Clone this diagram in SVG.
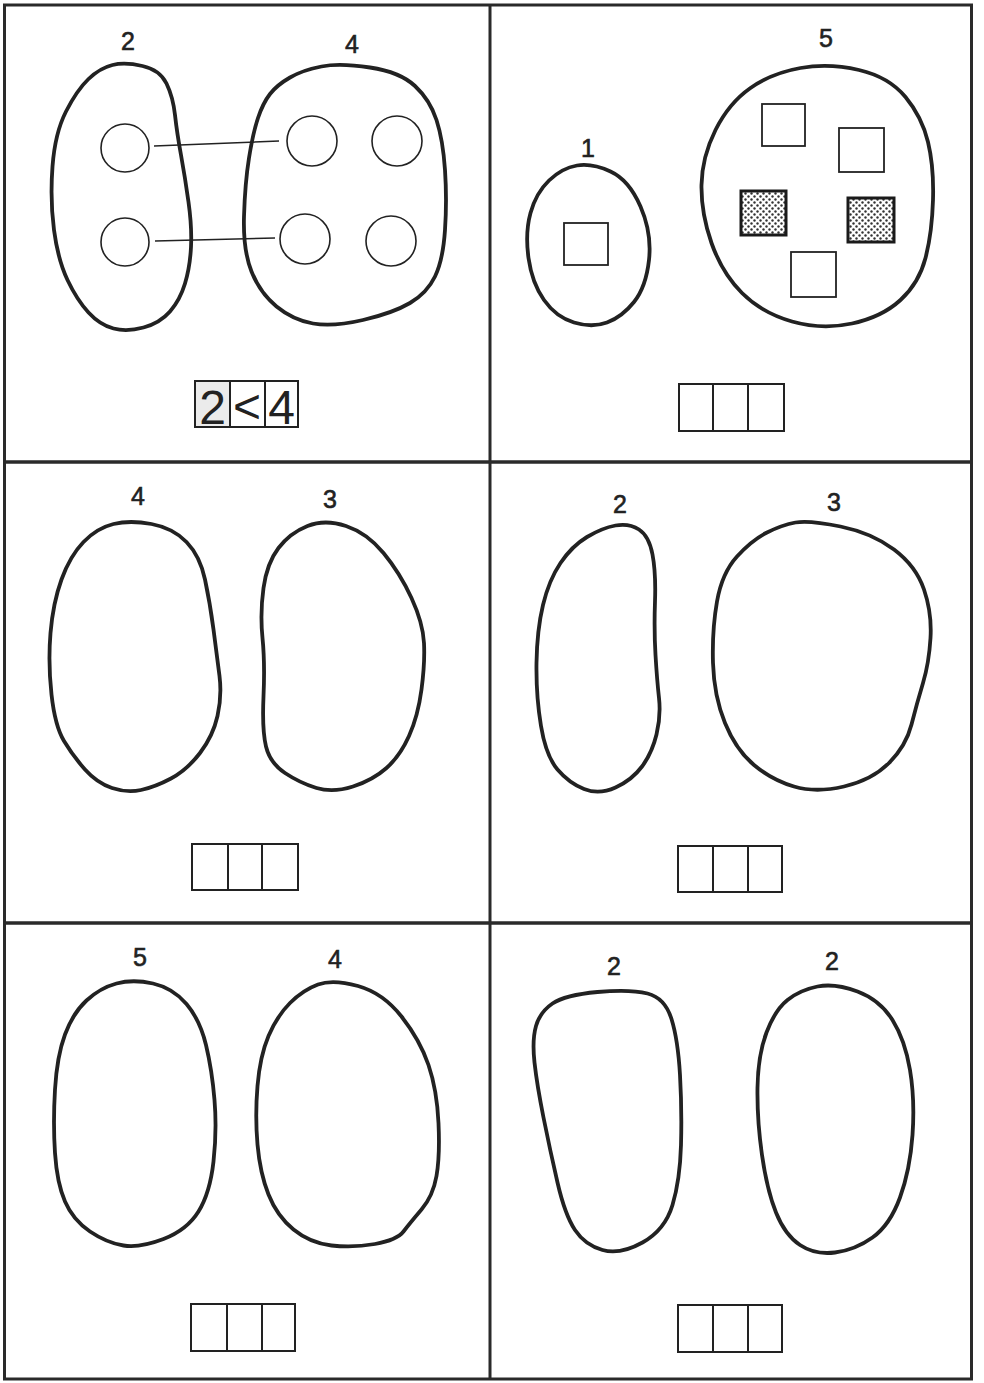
<svg xmlns="http://www.w3.org/2000/svg" width="984" height="1383" viewBox="0 0 984 1383">
<defs>
<pattern id="dots" width="6" height="6" patternUnits="userSpaceOnUse">
<rect width="6" height="6" fill="#fff"/>
<circle cx="1.5" cy="1.5" r="1.2" fill="#333"/>
<circle cx="4.5" cy="4.5" r="1.2" fill="#333"/>
</pattern>
</defs>
<style>
.frame{fill:none;stroke:#2a2a2a;stroke-width:3}
.blob{fill:none;stroke:#222;stroke-width:3.8;stroke-linejoin:round}
.circ{fill:none;stroke:#222;stroke-width:1.6}
.sq{fill:none;stroke:#222;stroke-width:1.8}
.sqd{fill:url(#dots);stroke:#1a1a1a;stroke-width:3}
.box{fill:none;stroke:#222;stroke-width:2}
.lbl{font-family:"Liberation Sans",Arial,sans-serif;font-size:25px;fill:#222;stroke:#222;stroke-width:0.6;text-anchor:middle}
.ans{font-family:"Liberation Sans",Arial,sans-serif;font-size:48px;fill:#222;text-anchor:middle}
.conn{stroke:#222;stroke-width:1.5;fill:none}
</style>
<rect width="984" height="1383" fill="#fff"/>
<g id="frame">
<rect class="frame" x="4.5" y="5" width="967" height="1374"/>
<line class="frame" x1="490" y1="5" x2="490" y2="1379"/>
<line class="frame" x1="4.5" y1="462" x2="971.5" y2="462" style="stroke-width:3.5"/>
<line class="frame" x1="4.5" y1="923" x2="971.5" y2="923" style="stroke-width:3.5"/>
</g>

<g id="cell1">
<g id="set-2a">
<text class="lbl" x="128" y="50">2</text>
<path class="blob" d="M112.5,65 Q125,62 142.5,66 Q160,70 166.5,83.5 Q173,97 175,115 Q177,133 181,155 Q185,177 188.5,202 Q192,227 191,247 Q190,267 185,283.5 Q180,300 170,311.5 Q160,323 143.5,327.5 Q127,332 113.5,328.5 Q100,325 88.5,312.5 Q77,300 67.5,280 Q58,260 54,230 Q50,200 52.5,166.5 Q55,133 66,111.5 Q77,90 88.5,79 Q100,68 112.5,65 Z"/>
<circle class="circ" cx="125" cy="148" r="24"/>
<circle class="circ" cx="125" cy="242" r="24"/>
</g>
<g id="set-4a">
<text class="lbl" x="352" y="53">4</text>
<path class="blob" d="M321.5,66.5 Q340,63 370,67.5 Q400,72 415,86 Q430,100 436.5,120 Q443,140 445,170 Q447,200 445,230 Q443,260 435,276.5 Q427,293 410,303 Q393,313 363,320 Q333,327 313,323.5 Q293,320 276.5,306.5 Q260,293 251.5,271.5 Q243,250 244,216.5 Q245,183 249,158 Q253,133 258,118 Q263,103 270,94 Q277,85 290,77.5 Q303,70 321.5,66.5 Z"/>
<circle class="circ" cx="312" cy="141" r="25"/>
<circle class="circ" cx="397" cy="141" r="25"/>
<circle class="circ" cx="305" cy="239" r="25"/>
<circle class="circ" cx="391" cy="241" r="25"/>
</g>
<g id="answer-1">
<rect x="195" y="381" width="35" height="46" fill="#ebebeb"/>
<rect class="box" x="195" y="381" width="103" height="46"/>
<line class="box" x1="230" y1="381" x2="230" y2="427"/>
<line class="box" x1="265" y1="381" x2="265" y2="427"/>
<text class="ans" x="212.5" y="424">2</text>
<text class="ans" x="247" y="423">&lt;</text>
<text class="ans" x="281.5" y="424">4</text>
</g>
</g>

<g id="connectors">
<line class="conn" x1="154" y1="146" x2="279" y2="141"/>
<line class="conn" x1="155" y1="241" x2="275" y2="238"/>
</g>

<g id="cell2">
<g id="set-1">
<text class="lbl" x="588" y="157">1</text>
<path class="blob" d="M577,165.5 Q592,163 610.5,171.5 Q629,180 640.5,206.5 Q652,233 649,260 Q646,287 634,302 Q622,317 607,322.5 Q592,328 574,322.5 Q556,317 544,300 Q532,283 528.5,258 Q525,233 530.5,213 Q536,193 549,180.5 Q562,168 577,165.5 Z"/>
<rect class="sq" x="564" y="223" width="44" height="42"/>
</g>
<g id="set-5a">
<text class="lbl" x="826" y="47">5</text>
<path class="blob" d="M800.5,68 Q829,63 859,70 Q889,77 905.5,97 Q922,117 928,142 Q934,167 933,200 Q932,233 925.5,258 Q919,283 900.5,300 Q882,317 852,323.5 Q822,330 792,321.5 Q762,313 742,293 Q722,273 711.5,243 Q701,213 701.5,185 Q702,157 715.5,130 Q729,103 750.5,88 Q772,73 800.5,68 Z"/>
<rect class="sq" x="762" y="104" width="43" height="42"/>
<rect class="sq" x="839" y="128" width="45" height="44"/>
<rect class="sqd" x="741" y="191" width="45" height="44"/>
<rect class="sqd" x="848" y="198" width="46" height="44"/>
<rect class="sq" x="791" y="252" width="45" height="45"/>
</g>
<g id="answer-2">
<rect class="box" x="679" y="384" width="105" height="47"/>
<line class="box" x1="713" y1="384" x2="713" y2="431"/>
<line class="box" x1="748" y1="384" x2="748" y2="431"/>
</g>
</g>

<g id="cell3">
<g id="set-4b">
<text class="lbl" x="138" y="505">4</text>
<path class="blob" d="M113.5,524 Q130,520 151.5,524 Q173,528 186.5,542 Q200,556 205,579.5 Q210,603 213.5,629.5 Q217,656 219.5,676 Q222,696 217.5,716 Q213,736 200,753 Q187,770 171,778.5 Q155,787 141,790 Q127,793 112,788 Q97,783 85,769.5 Q73,756 64,741 Q55,726 51.5,694.5 Q48,663 50.5,633 Q53,603 61.5,579.5 Q70,556 83.5,542 Q97,528 113.5,524 Z"/>
</g>
<g id="set-3a">
<text class="lbl" x="330" y="508">3</text>
<path class="blob" d="M307.5,526 Q325,519 346,526 Q367,533 383.5,553 Q400,573 411.5,598 Q423,623 424,643 Q425,663 421.5,689.5 Q418,716 409,736 Q400,756 386.5,768 Q373,780 353,786.5 Q333,793 316.5,788 Q300,783 285,773 Q270,763 266,746.5 Q262,730 263.5,696.5 Q265,663 262.5,638 Q260,613 263.5,588 Q267,563 278.5,548 Q290,533 307.5,526 Z"/>
</g>
<g id="answer-3">
<rect class="box" x="192" y="844" width="106" height="46"/>
<line class="box" x1="228" y1="844" x2="228" y2="890"/>
<line class="box" x1="262" y1="844" x2="262" y2="890"/>
</g>
</g>

<g id="cell4">
<g id="set-2b">
<text class="lbl" x="620" y="513">2</text>
<path class="blob" d="M615.5,525.5 Q629,523 639,529.5 Q649,536 652.5,554.5 Q656,573 655,601.5 Q654,630 655.5,655 Q657,680 659,698 Q661,716 656.5,734.5 Q652,753 642,766.5 Q632,780 615.5,787.5 Q599,795 584,789 Q569,783 557.5,769.5 Q546,756 541,726 Q536,696 536.5,663 Q537,630 543,605 Q549,580 560.5,563 Q572,546 587,537 Q602,528 615.5,525.5 Z"/>
</g>
<g id="set-3b">
<text class="lbl" x="834" y="511">3</text>
<path class="blob" d="M795.5,522.5 Q809,520 840.5,526.5 Q872,533 894,549.5 Q916,566 924,589.5 Q932,613 930.5,638 Q929,663 923,683 Q917,703 911.5,724.5 Q906,746 889,763 Q872,780 844,786.5 Q816,793 794,786.5 Q772,780 754,765 Q736,750 725,723 Q714,696 713,663 Q712,630 717,601.5 Q722,573 737,556.5 Q752,540 767,532.5 Q782,525 795.5,522.5 Z"/>
</g>
<g id="answer-4">
<rect class="box" x="678" y="846" width="104" height="46"/>
<line class="box" x1="713" y1="846" x2="713" y2="892"/>
<line class="box" x1="748" y1="846" x2="748" y2="892"/>
</g>
</g>

<g id="cell5">
<g id="set-5b">
<text class="lbl" x="140" y="966">5</text>
<path class="blob" d="M116.5,983.5 Q133,979 153,983.5 Q173,988 186.5,1004 Q200,1020 206,1045 Q212,1070 214.5,1100 Q217,1130 213.5,1161.5 Q210,1193 198.5,1211.5 Q187,1230 163.5,1239 Q140,1248 123.5,1245.5 Q107,1243 90,1231.5 Q73,1220 65,1201.5 Q57,1183 55,1153 Q53,1123 55,1089.5 Q57,1056 65,1034.5 Q73,1013 86.5,1000.5 Q100,988 116.5,983.5 Z"/>
</g>
<g id="set-4c">
<text class="lbl" x="335" y="968">4</text>
<path class="blob" d="M318,984.5 Q333,979 358,986 Q383,993 401.5,1016.5 Q420,1040 428.5,1065 Q437,1090 438.5,1123 Q440,1156 436.5,1176 Q433,1196 421.5,1209.5 Q410,1223 403.5,1231.5 Q397,1240 375,1244 Q353,1248 331.5,1245.5 Q310,1243 293.5,1229.5 Q277,1216 268.5,1194.5 Q260,1173 257.5,1144.5 Q255,1116 257.5,1086 Q260,1056 268.5,1036 Q277,1016 290,1003 Q303,990 318,984.5 Z"/>
</g>
<g id="answer-5">
<rect class="box" x="191" y="1304" width="104" height="47"/>
<line class="box" x1="227" y1="1304" x2="227" y2="1351"/>
<line class="box" x1="262" y1="1304" x2="262" y2="1351"/>
</g>
</g>

<g id="cell6">
<g id="set-2c">
<text class="lbl" x="614" y="975">2</text>
<path class="blob" d="M597.5,992 Q630,989 647.5,993.5 Q665,998 671.5,1019 Q678,1040 680,1075 Q682,1110 681,1145 Q680,1180 672.5,1205 Q665,1230 642.5,1242.5 Q620,1255 602.5,1250 Q585,1245 575,1230 Q565,1215 557.5,1182.5 Q550,1150 543.5,1117.5 Q537,1085 534.5,1062.5 Q532,1040 536,1026 Q540,1012 552.5,1003.5 Q565,995 597.5,992 Z"/>
</g>
<g id="set-2d">
<text class="lbl" x="832" y="970">2</text>
<path class="blob" d="M817.5,986.5 Q835,983 857.5,991.5 Q880,1000 892.5,1020 Q905,1040 910,1070 Q915,1100 912.5,1135 Q910,1170 900,1197.5 Q890,1225 872.5,1237.5 Q855,1250 835,1252.5 Q815,1255 800,1245 Q785,1235 776,1212.5 Q767,1190 762,1155 Q757,1120 757.5,1087.5 Q758,1055 766.5,1032.5 Q775,1010 787.5,1000 Q800,990 817.5,986.5 Z"/>
</g>
<g id="answer-6">
<rect class="box" x="678" y="1305" width="104" height="47"/>
<line class="box" x1="713" y1="1305" x2="713" y2="1352"/>
<line class="box" x1="748" y1="1305" x2="748" y2="1352"/>
</g>
</g>
</svg>
